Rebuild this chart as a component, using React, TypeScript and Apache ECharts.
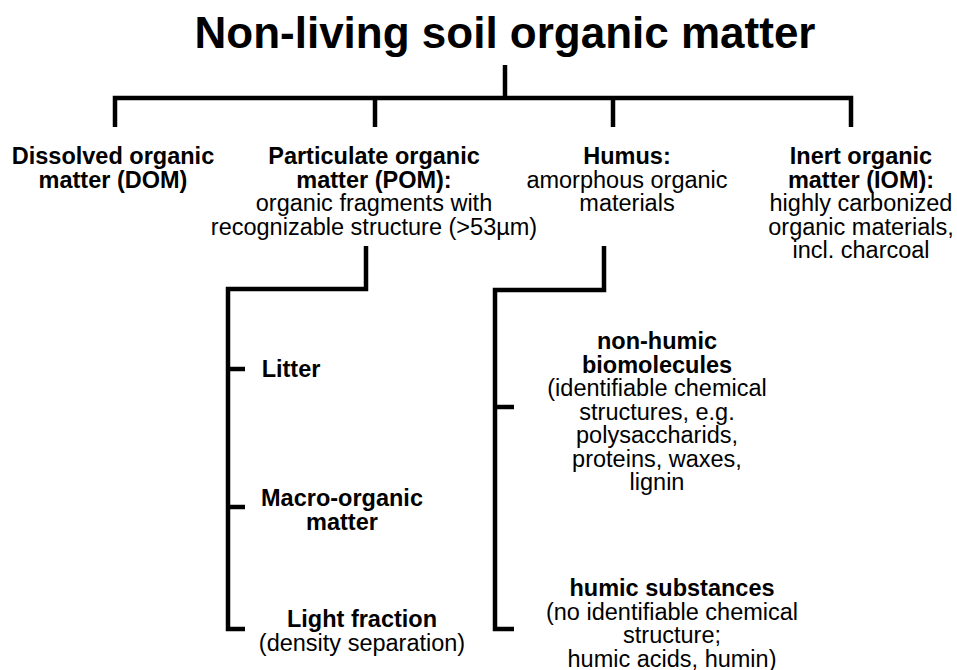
import React, { useEffect, useRef } from "react";
import * as echarts from "echarts";

// ---------- content ----------
const title = "Non-living soil organic matter";

const level1Bold: string[][] = [
  ["Dissolved organic", "matter (DOM)"],
  ["Particulate organic", "matter (POM):"],
  ["Humus:"],
  ["Inert organic", "matter (IOM):"],
];
const level1Regular: string[][] = [
  [],
  ["organic fragments with", "recognizable structure (>53µm)"],
  ["amorphous organic", "materials"],
  ["highly carbonized", "organic materials,", "incl. charcoal"],
];

const pomBold: string[][] = [["Litter"], ["Macro-organic", "matter"], ["Light fraction"]];
const pomRegular: string[][] = [[], [], ["(density separation)"]];

const humusBold: string[][] = [["non-humic", "biomolecules"], ["humic substances"]];
const humusRegular: string[][] = [
  ["(identifiable chemical", "structures, e.g.", "polysaccharids,", "proteins, waxes,", "lignin"],
  ["(no identifiable chemical", "structure;", "humic acids, humin)"],
];

// ---------- layout (in chart units = pixels) ----------
const W = 957;
const H = 670;
const FONT = "'Liberation Sans', Arial, Helvetica, sans-serif";
const LINE_W = 4.5;
const LS = 23.5; // line spacing

const layout = {
  titleX: 505,
  titleY: 32,
  rootX: 505,
  rootTop: 65,
  barY: 98,
  dropBottom: 127,
  dropX: [115, 375, 613, 851],
  l1CenterX: [113, 374, 627, 861],
  l1FirstY: 156,
  pom: { top: 246, x: 366, hY: 289, left: 228, tickEnd: 245, tickY: [369, 507, 629] },
  pomText: { cx: [291, 342, 362], y: [369, 498, 619] },
  hum: { top: 246, x: 604, hY: 290, left: 495, tickEnd: 514, tickY: [407, 629] },
  humText: { cx: [657, 672], y: [341, 588] },
};

type Seg = number[][];
const segments: Seg[] = [];
// root
segments.push([[layout.rootX, layout.rootTop], [layout.rootX, layout.barY]]);
// bar with outer drops
segments.push([
  [layout.dropX[0], layout.dropBottom],
  [layout.dropX[0], layout.barY],
  [layout.dropX[3], layout.barY],
  [layout.dropX[3], layout.dropBottom],
]);
segments.push([[layout.dropX[1], layout.barY], [layout.dropX[1], layout.dropBottom]]);
segments.push([[layout.dropX[2], layout.barY], [layout.dropX[2], layout.dropBottom]]);
// POM bracket
{
  const p = layout.pom;
  const last = p.tickY[p.tickY.length - 1];
  segments.push([[p.x, p.top], [p.x, p.hY], [p.left, p.hY], [p.left, last], [p.tickEnd, last]]);
  p.tickY.slice(0, -1).forEach((y) => segments.push([[p.left, y], [p.tickEnd, y]]));
}
// Humus bracket
{
  const p = layout.hum;
  const last = p.tickY[p.tickY.length - 1];
  segments.push([[p.x, p.top], [p.x, p.hY], [p.left, p.hY], [p.left, last], [p.tickEnd, last]]);
  p.tickY.slice(0, -1).forEach((y) => segments.push([[p.left, y], [p.tickEnd, y]]));
}

type TextItem = { text: string; x: number; y: number; size: number; bold: boolean };
const texts: TextItem[] = [];
texts.push({ text: title, x: layout.titleX, y: layout.titleY, size: 44, bold: true });

function pushBlock(bold: string[], reg: string[], cx: number, y0: number) {
  let y = y0;
  bold.forEach((t) => {
    texts.push({ text: t, x: cx, y, size: 23.5, bold: true });
    y += LS;
  });
  reg.forEach((t) => {
    texts.push({ text: t, x: cx, y, size: 23.5, bold: false });
    y += LS;
  });
}
level1Bold.forEach((b, i) => pushBlock(b, level1Regular[i], layout.l1CenterX[i], layout.l1FirstY));
pomBold.forEach((b, i) => pushBlock(b, pomRegular[i], layout.pomText.cx[i], layout.pomText.y[i]));
humusBold.forEach((b, i) => pushBlock(b, humusRegular[i], layout.humText.cx[i], layout.humText.y[i]));

export default function App() {
  const ref = useRef<HTMLDivElement>(null);
  useEffect(() => {
    if (!ref.current) return;
    const chart = echarts.init(ref.current, undefined, { renderer: "svg" });
    chart.setOption({
      animation: false,
      backgroundColor: "#ffffff",
      grid: { left: 0, right: 0, top: 0, bottom: 0 },
      xAxis: { type: "value", min: 0, max: W, show: false },
      yAxis: { type: "value", min: 0, max: H, inverse: true, show: false },
      series: [
        {
          type: "custom",
          coordinateSystem: "cartesian2d",
          silent: true,
          data: segments.map((_, i) => [i, i]),
          renderItem: (params: any, api: any) => {
            const pts = segments[params.dataIndex].map((p) => api.coord(p));
            return {
              type: "polyline",
              shape: { points: pts },
              style: { stroke: "#000", lineWidth: LINE_W, fill: null, lineJoin: "miter", lineCap: "butt" },
            };
          },
        },
        {
          type: "custom",
          coordinateSystem: "cartesian2d",
          silent: true,
          data: texts.map((_, i) => [i, i]),
          renderItem: (params: any, api: any) => {
            const t = texts[params.dataIndex];
            const [x, y] = api.coord([t.x, t.y]);
            return {
              type: "text",
              x,
              y,
              style: {
                text: t.text,
                fill: "#000",
                fontSize: t.size,
                fontWeight: t.bold ? "bold" : "normal",
                fontFamily: FONT,
                align: "center",
                verticalAlign: "middle",
              },
            };
          },
        },
      ],
    });
    return () => chart.dispose();
  }, []);
  return (
    <div
      ref={ref}
      style={{ position: "absolute", left: 0, top: 0, width: W, height: H, background: "#fff" }}
    />
  );
}
